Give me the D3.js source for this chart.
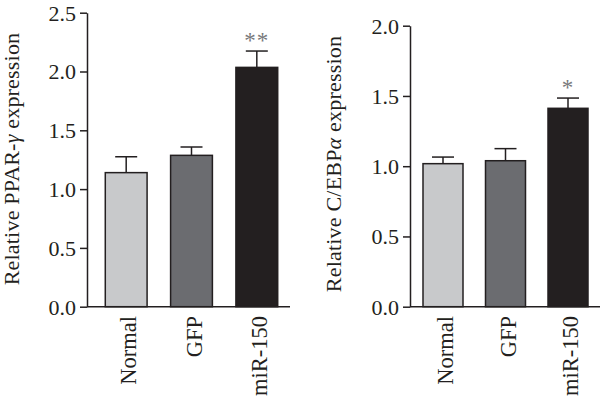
<!DOCTYPE html>
<html>
<head>
<meta charset="utf-8">
<script src="https://cdn.jsdelivr.net/npm/d3@7"></script>
<style>
  body { margin: 0; background: #fff; }
  svg text { font-family: "Liberation Serif", "Times New Roman", serif; fill: #231f20; }
</style>
</head>
<body>
<script>
// data
const categories = ["Normal", "GFP", "miR-150"];
const pparValues = [1.14, 1.287, 2.035];
const pparErrors = [0.135, 0.071, 0.139];
const pparStars = ["", "", "**"];
const pparTicks = [0, 0.5, 1.0, 1.5, 2.0, 2.5];
const cebpValues = [1.018, 1.039, 1.412];
const cebpErrors = [0.047, 0.086, 0.073];
const cebpStars = ["", "", "*"];
const cebpTicks = [0, 0.5, 1.0, 1.5, 2.0];
const barColors = ["#c8c9cb", "#6b6c70", "#231f20"];

const width = 600, height = 399;
const ink = "#231f20";

const svg = d3.select("body").append("svg")
  .attr("width", width)
  .attr("height", height);

function drawPanel(opt) {
  const g = svg.append("g");

  const y = d3.scaleLinear()
    .domain([0, opt.max])
    .range([306.7, opt.top]);

  const x = d3.scaleBand()
    .domain(categories)
    .range([opt.left, opt.right])
    .paddingInner(0.36)
    .paddingOuter(opt.outer);

  // y axis
  const yAxis = d3.axisLeft(y)
    .tickValues(opt.ticks)
    .tickFormat(d3.format(".1f"))
    .tickSize(7)
    .tickSizeOuter(0)
    .tickPadding(4);

  g.append("g")
    .attr("transform", `translate(${opt.left},0)`)
    .call(yAxis)
    .call(a => a.selectAll("path, line").attr("stroke", ink).attr("stroke-width", 1.5))
    .call(a => a.selectAll("text").attr("font-size", 22).attr("fill", ink)
      .attr("dy", "0.34em"));

  // x axis baseline
  g.append("line")
    .attr("x1", opt.left).attr("x2", opt.axisEnd)
    .attr("y1", y(0)).attr("y2", y(0))
    .attr("stroke", ink).attr("stroke-width", 1.5);

  // bars
  g.selectAll("rect.bar")
    .data(opt.values)
    .enter()
    .append("rect")
      .attr("class", "bar")
      .attr("x", (d, i) => x(categories[i]))
      .attr("y", d => y(d))
      .attr("width", x.bandwidth())
      .attr("height", d => y(0) - y(d))
      .attr("fill", (d, i) => barColors[i])
      .attr("stroke", ink)
      .attr("stroke-width", 1.5);

  // error bars (upper only)
  const cx = i => x(categories[i]) + x.bandwidth() / 2;
  g.selectAll("line.err")
    .data(opt.values)
    .enter()
    .append("line")
      .attr("x1", (d, i) => cx(i)).attr("x2", (d, i) => cx(i))
      .attr("y1", d => y(d))
      .attr("y2", (d, i) => y(d + opt.errors[i]))
      .attr("stroke", ink).attr("stroke-width", 1.5);

  g.selectAll("line.cap")
    .data(opt.values)
    .enter()
    .append("line")
      .attr("x1", (d, i) => cx(i) - 11).attr("x2", (d, i) => cx(i) + 11)
      .attr("y1", (d, i) => y(d + opt.errors[i]))
      .attr("y2", (d, i) => y(d + opt.errors[i]))
      .attr("stroke", ink).attr("stroke-width", 1.5);

  // significance stars
  g.selectAll("text.star")
    .data(opt.values)
    .enter()
    .append("text")
      .attr("x", (d, i) => cx(i))
      .attr("y", (d, i) => y(d + opt.errors[i]) - 3)
      .attr("text-anchor", "middle")
      .attr("font-size", 23)
      .style("fill", "#77787b")
      .attr("letter-spacing", 1)
      .text((d, i) => opt.stars[i]);

  // category labels
  g.selectAll("text.cat")
    .data(categories)
    .enter()
    .append("text")
      .attr("transform", d => `translate(${x(d) + x.bandwidth() / 2 + 10},316) rotate(-90)`)
      .attr("text-anchor", "end")
      .attr("font-size", 22.5)
      .text(d => d);

  // y axis title
  const t = g.append("text")
    .attr("transform", `translate(${opt.titleX},${opt.titleY}) rotate(-90)`)
    .attr("text-anchor", "middle")
    .attr("font-size", 22)
    .attr("letter-spacing", 0.2);
  t.append("tspan").text(opt.title[0]);
  t.append("tspan").attr("font-style", "italic").text(opt.title[1]);
  t.append("tspan").text(opt.title[2]);
}

drawPanel({
  values: pparValues, errors: pparErrors, stars: pparStars, ticks: pparTicks,
  max: 2.5, top: 12.7, left: 87, right: 296, outer: 0.28, axisEnd: 290,
  title: ["Relative PPAR-", "γ", " expression"], titleX: 19, titleY: 159
});

drawPanel({
  values: cebpValues, errors: cebpErrors, stars: cebpStars, ticks: cebpTicks,
  max: 2.0, top: 25.7, left: 410, right: 601, outer: 0.208, axisEnd: 600,
  title: ["Relative C/EBP", "α", " expression"], titleX: 341, titleY: 164
});
</script>
</body>
</html>
